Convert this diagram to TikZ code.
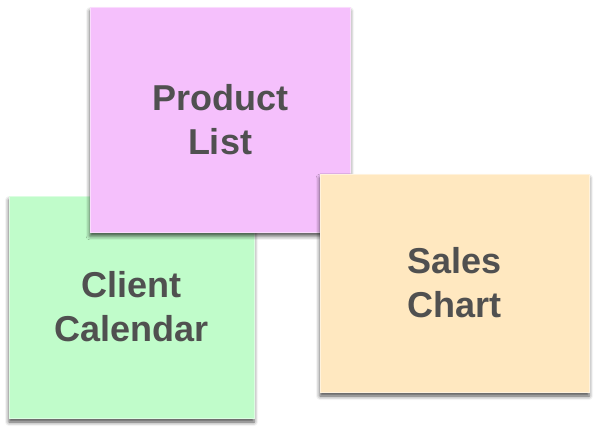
\documentclass[tikz,border=0pt]{standalone}
\usepackage{fontspec}
\setmainfont{Liberation Sans}
\usetikzlibrary{shadows.blur}
\definecolor{cardpink}{RGB}{245,192,252}
\definecolor{cardgreen}{RGB}{192,252,202}
\definecolor{cardpeach}{RGB}{255,232,192}
\definecolor{cardtext}{RGB}{80,80,80}
\begin{document}
\begin{tikzpicture} [
        x=1pt, y=1pt,
        card/.style={rectangle, inner sep=0pt, align=center,
            font=\fontsize{36}{44}\selectfont\bfseries, text=cardtext,
            draw=#1!55!white, line width=0.8pt, fill=#1,
            blur shadow={shadow xshift=0pt, shadow yshift=-4pt,
                shadow blur radius=4pt, shadow opacity=70}} ]
    \useasboundingbox (0,0) rectangle (600,432);
    \node[card=cardgreen, minimum width=245pt, minimum height=222pt] (calendar) at (131.5,125) {Client\\Calendar};
    \node[card=cardpink, minimum width=260pt, minimum height=225pt] (list) at (220,312.5) {Product\\List};
    \node[card=cardpeach, minimum width=269pt, minimum height=218pt] (chart) at (454.5,149) {Sales\\Chart};
\end{tikzpicture}
\end{document}
